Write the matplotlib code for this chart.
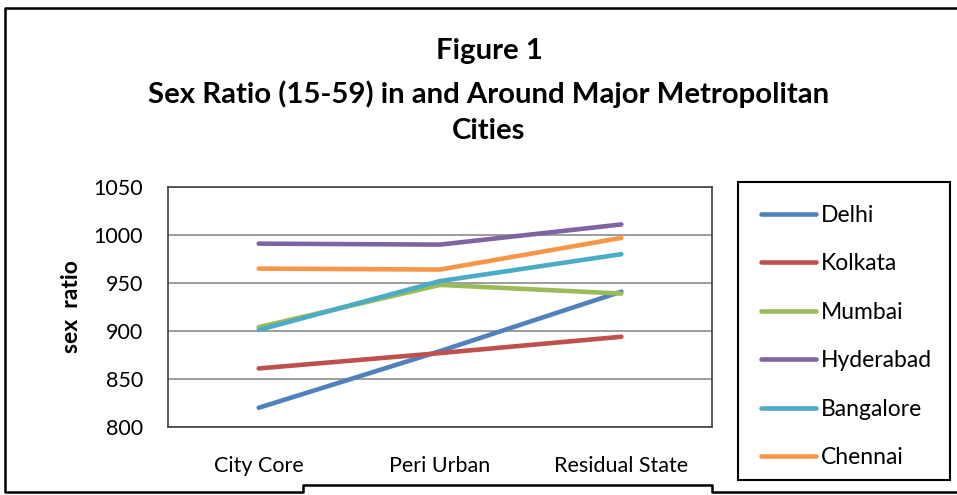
import matplotlib.pyplot as plt
from matplotlib.lines import Line2D
from matplotlib.patches import Rectangle

plt.rcParams['font.family'] = ['Lato', 'DejaVu Sans']

areas = ["City Core", "Peri Urban", "Residual State"]
cities = ["Delhi", "Kolkata", "Mumbai", "Hyderabad", "Bangalore", "Chennai"]
delhi = [820, 879, 941]
kolkata = [861, 877, 894]
mumbai = [904, 948, 939]
hyderabad = [991, 990, 1011]
bangalore = [901, 952, 980]
chennai = [965, 964, 997]
colors = ["#4F81BD", "#C0504D", "#9BBB59", "#8064A2", "#4BACC6", "#F79646"]

W, H = 957, 495
fig = plt.figure(figsize=(W / 100, H / 100), dpi=100)
ax = fig.add_axes([168 / W, 1 - 427 / H, (712 - 168) / W, (427 - 187) / H])

x = range(len(areas))
for name, vals, c in zip(cities, [delhi, kolkata, mumbai, hyderabad, bangalore, chennai], colors):
    ax.plot(x, vals, color=c, lw=3.3, solid_capstyle='round', label=name)

ax.set_xlim(-0.5, 2.5)
ax.set_ylim(800, 1050)
ax.set_yticks(range(800, 1051, 50))
ax.set_xticks(list(x))
ax.set_xticklabels(areas)
ax.tick_params(length=0, labelsize=15.5)
ax.tick_params(axis='x', pad=21)
ax.tick_params(axis='y', pad=18)
ax.yaxis.grid(True, color='#8c8c8c', lw=1.2)
ax.set_axisbelow(True)
for s in ax.spines.values():
    s.set_color('#404040')
    s.set_linewidth(1.2)
ax.set_ylabel("sex  ratio", fontsize=16.5, fontweight='bold', labelpad=8)

title_lines = ["Figure 1", "Sex Ratio (15-59) in and Around Major Metropolitan", "Cities"]
for ty, t in zip([51, 94, 131], title_lines):
    fig.text(489 / W, 1 - ty / H, t, ha='center', va='center', fontsize=21.2, fontweight='bold')

# legend entries without their own frame; box drawn separately
leg = fig.legend(loc='upper left', bbox_to_anchor=(738 / W, 1 - 182 / H), fontsize=16.5,
                 frameon=False, handlelength=2.4, handletextpad=0.2,
                 labelspacing=1.2, borderpad=1.0, borderaxespad=0)
fig.add_artist(Rectangle((738 / W, 1 - 480 / H), (950 - 738) / W, (480 - 182) / H,
                         transform=fig.transFigure, fill=False, edgecolor='black', lw=1.5))

# outer frame with the notch along the bottom edge
px = [957, 5, 5, 303, 303, 712, 712, 957]
py = [8, 8, 492, 492, 485, 485, 492, 492]
fig.add_artist(Line2D([p / W for p in px], [1 - p / H for p in py], color='black', lw=1.8))

fig.savefig("out.png", dpi=100)
